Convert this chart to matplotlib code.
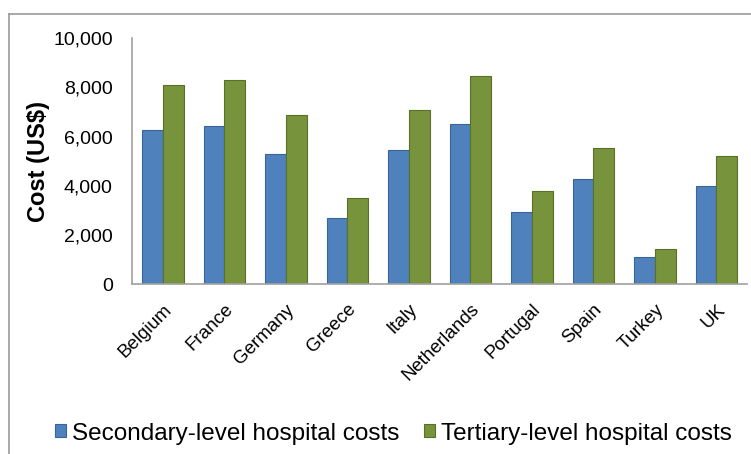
import numpy as np
import matplotlib.pyplot as plt
from matplotlib.lines import Line2D

plt.rcParams['font.family'] = ['Liberation Sans', 'DejaVu Sans']

countries = ['Belgium', 'France', 'Germany', 'Greece', 'Italy',
             'Netherlands', 'Portugal', 'Spain', 'Turkey', 'UK']
secondary = [6260, 6410, 5300, 2710, 5450, 6530, 2915, 4270, 1100, 4010]
tertiary = [8090, 8290, 6860, 3520, 7060, 8455, 3770, 5555, 1435, 5215]
y_ticks = [0, 2000, 4000, 6000, 8000, 10000]

fig = plt.figure(figsize=(7.51, 4.54), dpi=100)
ax = fig.add_axes([0.176, 0.374, 0.819, 0.542])

x = np.arange(len(countries))
w = 0.34
ax.bar(x - w / 2, secondary, w, color='#4F81BD', edgecolor='#3A6396',
       linewidth=0.8, label='Secondary-level hospital costs')
ax.bar(x + w / 2, tertiary, w, color='#77933C', edgecolor='#5A7029',
       linewidth=0.8, label='Tertiary-level hospital costs')

ax.set_xlim(-0.5, len(countries) - 0.5)
ax.set_ylim(0, 10000)
ax.set_yticks(y_ticks)
ax.set_yticklabels([f'{v:,}' for v in y_ticks], fontsize=14)
ax.set_xticks(x)
ax.set_xticklabels(countries, rotation=45, ha='right', rotation_mode='anchor',
                   fontsize=13.5)
ax.tick_params(axis='y', length=0, pad=14)
ax.tick_params(axis='x', length=0, pad=12)
ax.set_ylabel('Cost (US$)', fontsize=17, fontweight='bold', labelpad=2)

for s in ['top', 'right']:
    ax.spines[s].set_visible(False)
for s in ['left', 'bottom']:
    ax.spines[s].set_color('#A0A0A0')
    ax.spines[s].set_linewidth(1.2)

fig.legend(loc='center', bbox_to_anchor=(0.524, 0.045), ncol=2,
           frameon=False, fontsize=17.5,
           handlelength=0.45, handleheight=0.45,
           handletextpad=0.25, columnspacing=1.0, borderpad=0)

# outer chart frame
fig.add_artist(Line2D([9 / 751, 1], [1 - 14 / 454, 1 - 14 / 454],
                      transform=fig.transFigure, color='#999999', lw=1.2))
fig.add_artist(Line2D([9 / 751, 9 / 751], [0, 1 - 14 / 454],
                      transform=fig.transFigure, color='#999999', lw=1.2))

fig.savefig('out.png', dpi=100)
